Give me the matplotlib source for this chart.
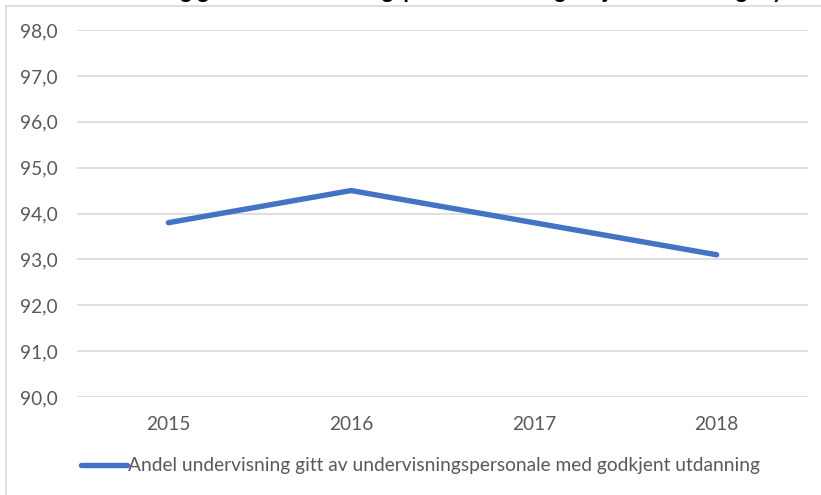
import matplotlib.pyplot as plt
from matplotlib.patches import Rectangle

# data
years = ["2015", "2016", "2017", "2018"]
andel = [93.8, 94.5, 93.8, 93.1]
series_name = "Andel undervisning gitt av undervisningspersonale med godkjent utdanning"
title_text = "Andel undervisning gitt av undervisningspersonale med godkjent utdanning i fylket"

W, H = 821, 495
fig = plt.figure(figsize=(W / 100, H / 100), dpi=100)
plt.rcParams['font.family'] = ['Lato', 'DejaVu Sans']

# chart frame (top and left edges visible)
fig.patches.append(Rectangle((6 / W, -0.1), 1.2, 1.1 - 6 / H, transform=fig.transFigure,
                             fill=False, edgecolor="#D9D9D9", linewidth=1.2))

# cut-off title above the frame
fig.text(0.5, 1 + 2.5 / H, title_text, ha="center", va="baseline",
         fontsize=16, fontweight="bold", color="black")

ax = fig.add_axes([77 / W, 1 - 397 / H, (808 - 77) / W, (397 - 30) / H])
x = range(len(years))
ax.plot(x, andel, color="#4472C4", linewidth=3.9, solid_capstyle="round",
        label=series_name)

ax.set_xlim(-0.5, len(years) - 0.5)
ax.set_ylim(90, 98)
ax.set_yticks([90 + i for i in range(9)])
ax.set_yticklabels([f"{90 + i},0" for i in range(9)])
ax.set_xticks(list(x))
ax.set_xticklabels(years)
ax.grid(axis="y", color="#D9D9D9", linewidth=1.2)
ax.set_axisbelow(True)
for s in ax.spines.values():
    s.set_visible(False)
ax.tick_params(axis="both", length=0, labelsize=13.8, labelcolor="#595959")
ax.tick_params(axis="y", pad=14)
ax.tick_params(axis="x", pad=14)

leg = fig.legend(loc="center left", bbox_to_anchor=(73 / W, 1 - 466 / H), frameon=False,
                 fontsize=13.8, handlelength=2.4, handletextpad=0.05, borderaxespad=0)
for t in leg.get_texts():
    t.set_color("#595959")

fig.savefig("out.png", dpi=100)
